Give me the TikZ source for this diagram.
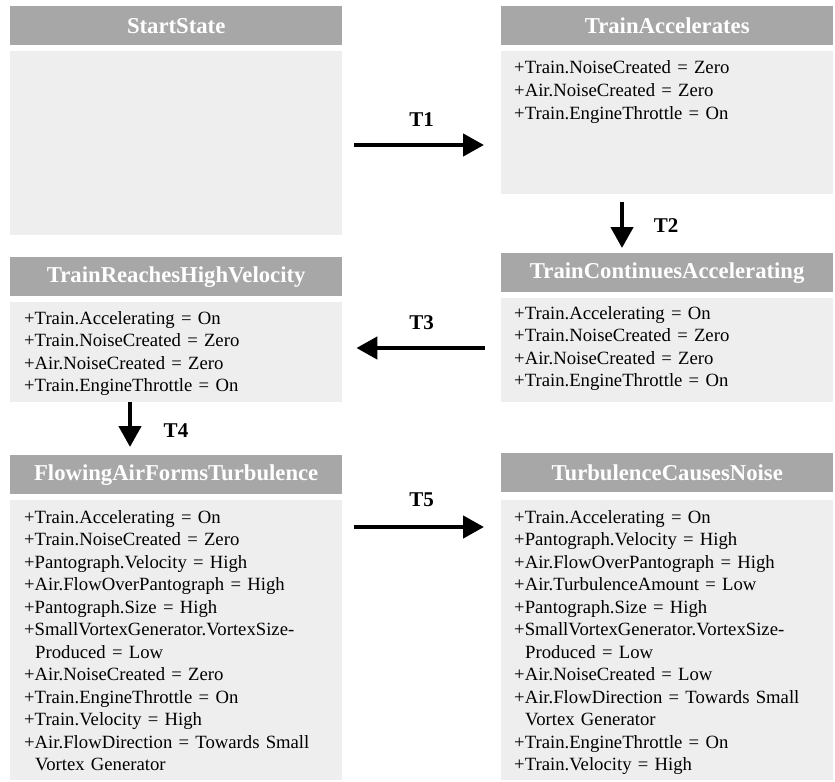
\documentclass[tikz,border=0pt]{standalone}
\usepackage{fontspec}
\setmainfont{Liberation Serif}
\usetikzlibrary{arrows.meta}
\definecolor{hdrgray}{HTML}{A7A7A7}
\definecolor{bodygray}{HTML}{EEEEEE}
\tikzset{
  hdr/.style={fill=hdrgray, text=white, inner sep=0pt, anchor=north west,
    minimum width=332bp, minimum height=39bp,
    font={\bfseries\fontsize{22.7bp}{26bp}\selectfont}},
  bodybox/.style={fill=bodygray, inner sep=0pt, anchor=north west, minimum width=332bp},
  bodytext/.style={inner sep=0pt, anchor=base west, align=left, text width=318bp,
    font={\fontsize{18.7bp}{22.5bp}\selectfont}},
  arr/.style={line width=4.5bp, -{Triangle[length=21bp,width=22bp]}},
  lbl/.style={font={\bfseries\fontsize{21bp}{24bp}\selectfont}, inner sep=0pt},
}
\newcommand{\cont}{\hspace*{11bp}}
\begin{document}
\begin{tikzpicture}[x=1bp,y=-1bp]
\path[use as bounding box] (0,0) rectangle (835,782);

% StartState
\node[hdr] (h1) at (10,6) {StartState};
\node[bodybox, minimum height=184bp] (b1) at (10,51) {};

% TrainAccelerates
\node[hdr] (h2) at (501,6) {TrainAccelerates};
\node[bodybox, minimum height=143bp] (b2) at (501,51) {};
\node[bodytext] (t2) at ([xshift=13bp,yshift=-23bp]b2.north west)
  {+Train.NoiseCreated = Zero\\
   +Air.NoiseCreated = Zero\\
   +Train.EngineThrottle = On};

% TrainReachesHighVelocity
\node[hdr] (h3) at (10,257) {TrainReachesHighVelocity};
\node[bodybox, minimum height=100bp] (b3) at (10,302) {};
\node[bodytext] (t3) at ([xshift=14bp,yshift=-22bp]b3.north west)
  {+Train.Accelerating = On\\
   +Train.NoiseCreated = Zero\\
   +Air.NoiseCreated = Zero\\
   +Train.EngineThrottle = On};

% TrainContinuesAccelerating
\node[hdr] (h4) at (501,253) {TrainContinuesAccelerating};
\node[bodybox, minimum height=104bp] (b4) at (501,298) {};
\node[bodytext] (t4) at ([xshift=13bp,yshift=-21bp]b4.north west)
  {+Train.Accelerating = On\\
   +Train.NoiseCreated = Zero\\
   +Air.NoiseCreated = Zero\\
   +Train.EngineThrottle = On};

% FlowingAirFormsTurbulence
\node[hdr] (h5) at (10,455) {FlowingAirFormsTurbulence};
\node[bodybox, minimum height=280bp] (b5) at (10,500) {};
\node[bodytext] (t5) at ([xshift=14bp,yshift=-23bp]b5.north west)
  {+Train.Accelerating = On\\
   +Train.NoiseCreated = Zero\\
   +Pantograph.Velocity = High\\
   +Air.FlowOverPantograph = High\\
   +Pantograph.Size = High\\
   +SmallVortexGenerator.VortexSize-\\
   \cont Produced = Low\\
   +Air.NoiseCreated = Zero\\
   +Train.EngineThrottle = On\\
   +Train.Velocity = High\\
   +Air.FlowDirection = Towards Small\\
   \cont Vortex Generator};

% TurbulenceCausesNoise
\node[hdr] (h6) at (501,453) {TurbulenceCausesNoise};
\node[bodybox, minimum height=280bp] (b6) at (501,500) {};
\node[bodytext] (t6) at ([xshift=13bp,yshift=-23bp]b6.north west)
  {+Train.Accelerating = On\\
   +Pantograph.Velocity = High\\
   +Air.FlowOverPantograph = High\\
   +Air.TurbulenceAmount = Low\\
   +Pantograph.Size = High\\
   +SmallVortexGenerator.VortexSize-\\
   \cont Produced = Low\\
   +Air.NoiseCreated = Low\\
   +Air.FlowDirection = Towards Small\\
   \cont Vortex Generator\\
   +Train.EngineThrottle = On\\
   +Train.Velocity = High};

% transitions
\draw[arr, shorten <=12bp, shorten >=17bp] (b1.east |- 0,145) -- (b2.west |- 0,145)
  node[lbl, midway, yshift=25bp] (l1) {T1};
\draw[arr, shorten <=8bp, shorten >=5bp] (b2.south -| 622,0) -- (h4.north -| 622,0)
  node[lbl, midway, xshift=44bp, yshift=-2bp] (l2) {T2};
\draw[arr, shorten <=16bp, shorten >=14bp] (b4.west |- 0,348) -- (b3.east |- 0,348)
  node[lbl, midway, yshift=25bp] (l3) {T3};
\draw[arr, shorten >=8bp] (b3.south -| 130,0) -- (h5.north -| 130,0)
  node[lbl, midway, xshift=46bp, yshift=-2bp] (l4) {T4};
\draw[arr, shorten <=12bp, shorten >=17bp] (b5.east |- 0,527) -- (b6.west |- 0,527)
  node[lbl, midway, yshift=27bp] (l5) {T5};
\end{tikzpicture}
\end{document}
